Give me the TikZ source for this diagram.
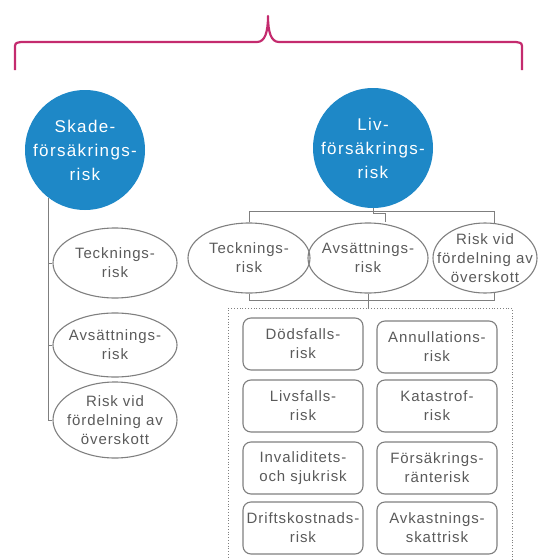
\documentclass[tikz,border=0pt]{standalone}
\usepackage{fontspec}
\usetikzlibrary{shapes.geometric}
\newfontfamily\diafont[LetterSpace=6]{Liberation Sans}
\newfontfamily\circfont[LetterSpace=8]{Liberation Sans}
\definecolor{riskblue}{HTML}{1E88C7}
\definecolor{bracecol}{HTML}{C42B6E}
\definecolor{txtgray}{HTML}{5A5A5A}
\definecolor{linegray}{HTML}{7F7F7F}
\begin{document}
\begin{tikzpicture}[x=1pt, y=-1pt,
	main/.style={circle, fill=riskblue, text=white, inner sep=-8pt, minimum size=120pt, align=center, font=\circfont\fontsize{17}{24}\selectfont},
	sub/.style={ellipse, draw=linegray, line width=1.1pt, inner xsep=-14pt, inner ysep=-8pt, text=txtgray, align=center, font=\diafont\fontsize{15}{19}\selectfont},
	leaf/.style={draw=linegray, line width=1.1pt, rounded corners=8pt, minimum width=120pt, minimum height=52pt, inner sep=0pt, text=txtgray, align=center, font=\diafont\fontsize{15}{19}\selectfont},
	link/.style={draw=linegray, line width=1pt}]
	\useasboundingbox (0,0) rectangle (540,560);
	\clip (0,0) rectangle (540,560);
	% brace
	\draw[bracecol, line width=2.2pt, line join=round] (15,70) -- (15,49) .. controls (15,43) .. (21,42) -- (257,42) .. controls (265,42) and (268,32) .. (268,16) .. controls (268,32) and (271,42) .. (279,42) -- (516,42) .. controls (522,43) .. (522,49) -- (522,70);
	% main risks
	\node[main] (skade) at (85,150) {Skade-\\försäkrings-\\risk};
	\node[main] (liv) at (373,148) {Liv-\\försäkrings-\\risk};
	% skade branch
	\node[sub, minimum width=124pt, minimum height=70pt] (sTeck) at (115,263) {Tecknings-\\risk};
	\node[sub, minimum width=124pt, minimum height=64pt] (sAvs) at (115,345) {Avsättnings-\\risk};
	\node[sub, minimum width=124pt, minimum height=76pt] (sRisk) at (115,420) {Risk vid\\fördelning av\\överskott};
	\draw[link] (skade.233) |- (sRisk.west);
	\draw[link] (skade.233 |- sTeck.west) -- (sTeck.west);
	\draw[link] (skade.233 |- sAvs.west) -- (sAvs.west);
	% liv branch
	\node[sub, minimum width=122pt, minimum height=70pt] (lTeck) at (249,258) {Tecknings-\\risk};
	\node[sub, minimum width=120pt, minimum height=70pt] (lAvs) at (368,258) {Avsättnings-\\risk};
	\node[sub, minimum width=104pt, minimum height=70pt] (lRisk) at (485,258) {Risk vid\\fördelning av\\överskott};
	\draw[link] (lTeck.north) -- ++(0,-11) -| (lRisk.75);
	\draw[link] (liv.south) -- ++(0,5) -| ([xshift=17pt]lAvs.north);
	\draw[link] (lTeck.south) -- ++(0,7) -| (lRisk.285);
	% group of life risks
	\node[draw=linegray, dotted, line width=0.8pt, minimum width=284pt, minimum height=270pt, anchor=north west] (group) at (228,308) {};
	\draw[link] (lAvs.south) -- (lAvs.south |- group.north);
	\node[leaf] (doed) at (303,344) {Dödsfalls-\\risk};
	\node[leaf] (livs) at (303,406) {Livsfalls-\\risk};
	\node[leaf] (inval) at (303,468) {Invaliditets-\\och sjukrisk};
	\node[leaf] (drift) at (303,528) {Driftskostnads-\\risk};
	\node[leaf] (annul) at (437,347) {Annullations-\\risk};
	\node[leaf] (kata) at (437,406) {Katastrof-\\risk};
	\node[leaf] (fors) at (437,468) {Försäkrings-\\ränterisk};
	\node[leaf] (avk) at (437,528) {Avkastnings-\\skattrisk};
\end{tikzpicture}
\end{document}
